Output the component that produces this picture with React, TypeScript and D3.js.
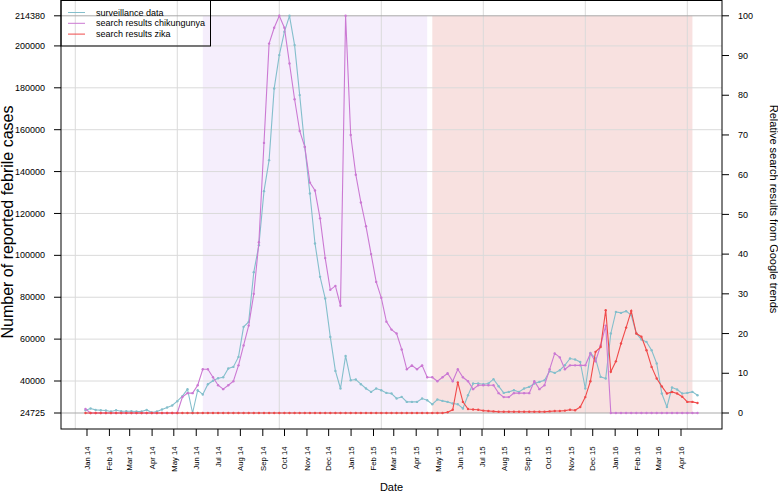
import React from "react";
import * as d3 from "d3";

// ---------- data ----------
const surveillance = [
  26060, 26870, 26205, 26060, 25920, 25440, 26060, 25585, 25585, 25585,
  25440, 25440, 26205, 24965, 25440, 26400, 27350, 28310, 30360, 32750,
  36090, 24725, 35610, 33560, 38480, 40150, 41350, 41820, 45980, 46740,
  51520, 65850, 68230, 91970, 104870, 130660, 145460, 179700, 195610, 206740,
  214380, 200390, 176510, 151810, 129560, 105680, 89730, 79410, 61070, 44830,
  36430, 52000, 40390, 40720, 38480, 36430, 34800, 36430, 35610, 34330,
  34040, 31650, 32410, 30030, 30030, 30030, 31650, 30840, 28930, 31170,
  30500, 30030, 29260, 28930, 26870, 33230, 38810, 38810, 38480, 38810,
  40870, 37525, 34325, 34800, 35615, 34800, 36425, 37190, 38810, 39580,
  40390, 44690, 43880, 45165, 47555, 50750, 50280, 49130, 36425, 53430,
  50750, 41970, 41200, 62690, 73010, 72530, 73340, 71430, 62690, 59830,
  58680, 54720, 48365, 34040, 27640, 36900, 35950, 34040, 34325, 34800,
  33230,
];

const chikungunya = [
  1, 0, 0, 0, 0, 0, 0, 0, 0, 0,
  0, 0, 0, 0, 0, 0, 0, 0, 0, 4,
  5, 5, 7, 11, 11, 9, 7, 6, 7, 8,
  12, 17, 22, 30, 43, 68, 93, 97, 100, 97,
  88, 79, 71, 67, 58, 56, 49, 39, 31, 32,
  27, 100, 70, 60, 53, 47, 40, 33, 29, 23,
  21, 20, 16, 11, 12, 11, 12, 9, 9, 8,
  9, 10, 8, 11, 9, 8, 6, 7, 7, 7,
  7, 5, 4, 4, 5, 5, 5, 5, 8, 6,
  7, 11, 15, 14, 11, 12, 12, 12, 12, 15,
  13, 17, 22, 0, 0, 0, 0, 0, 0, 0,
  0, 0, 0, 0, 0, 0, 0, 0, 0, 0,
  0,
];

const zika = [
  0, 0, 0, 0, 0, 0, 0, 0, 0, 0,
  0, 0, 0, 0, 0, 0, 0, 0, 0, 0,
  0, 0, 0, 0, 0, 0, 0, 0, 0, 0,
  0, 0, 0, 0, 0, 0, 0, 0, 0, 0,
  0, 0, 0, 0, 0, 0, 0, 0, 0, 0,
  0, 0, 0, 0, 0, 0, 0, 0, 0, 0,
  0, 0, 0, 0, 0, 0, 0, 0, 0, 0,
  0, 0.2, 0.8, 7.7, 2.8, 1.0, 0.9, 0.8, 0.6, 0.5,
  0.4, 0.3, 0.3, 0.3, 0.3, 0.3, 0.3, 0.3, 0.3, 0.3,
  0.3, 0.4, 0.5, 0.5, 0.6, 0.8, 0.7, 1.5, 4, 8,
  15.4, 16.6, 25.9, 10.4, 13, 17.5, 21.5, 25.7, 20, 19.2,
  15.8, 11.6, 8.7, 6.7, 4.9, 5.3, 4.9, 4.1, 2.8, 2.8,
  2.5,
];

// week numbers of the observations (x values)
const firstWeek = 2;
const weeks = d3.range(firstWeek, firstWeek + surveillance.length);

// shaded epidemic periods (week numbers)
const chikPeriod = [25, 69];
const zikaPeriod = [70, 121];

const leftTicks = [24725, 40000, 60000, 80000, 100000, 120000, 140000, 160000, 180000, 200000, 214380];
const leftGrid = [40000, 60000, 80000, 100000, 120000, 140000, 160000, 180000, 200000];
const rightTicks = [0, 10, 20, 30, 40, 50, 60, 70, 80, 90, 100];
const monthLabels = [
  "Jan 14", "Feb 14", "Mar 14", "Apr 14", "May 14", "Jun 14", "Jul 14", "Aug 14", "Sep 14", "Oct 14", "Nov 14", "Dec 14",
  "Jan 15", "Feb 15", "Mar 15", "Apr 15", "May 15", "Jun 15", "Jul 15", "Aug 15", "Sep 15", "Oct 15", "Nov 15", "Dec 15",
  "Jan 16", "Feb 16", "Mar 16", "Apr 16",
];
const legendLabels = ["surveillance data", "search results chikungunya", "search results zika"];

// ---------- styles ----------
const FONT = "'Liberation Sans', Arial, Helvetica, sans-serif";
const C_SURV = "#84BFCC";
const C_CHIK = "#CB79D3";
const C_ZIKA = "#F04A4A";
const C_SHADE_CHIK = "#F5EEFC";
const C_SHADE_ZIKA = "#F8E1E0";
const C_GRID = "#DADADA";
const C_REF = "#A9A9A9";

const W = 778;
const H = 493;
const L = 61, R = 722, T = 0.5, B = 429;

export default function App() {
  const pad = 0.04 * (weeks[weeks.length - 1] - weeks[0]);
  const x = d3.scaleLinear().domain([weeks[0] - pad, weeks[weeks.length - 1] + pad]).range([L, R]);
  const xTime = d3.scaleTime()
    .domain([new Date(2013, 10, 26, 2), new Date(2016, 4, 27, 16)])
    .range([L, R]);
  const yR = d3.scaleLinear().domain([0, 100]).range([413, 15.8]);
  const yL = d3.scaleLinear().domain([24725, 214380]).range([413, 15.8]);

  const parse = d3.timeParse("%b %y");
  const monthDates = monthLabels.map((m) => parse(m) as Date);

  const lineL = d3.line<number>().x((_, i) => x(weeks[i])).y((d) => yL(d));
  const lineR = d3.line<number>().x((_, i) => x(weeks[i])).y((d) => yR(d));

  const series = [
    { data: surveillance, color: C_SURV, y: yL, path: lineL(surveillance) },
    { data: chikungunya, color: C_CHIK, y: yR, path: lineR(chikungunya) },
    { data: zika, color: C_ZIKA, y: yR, path: lineR(zika) },
  ];

  const gridX = x.ticks(5);
  const legendColors = [C_SURV, C_CHIK, C_ZIKA];

  return (
    <svg
      width={W}
      height={H}
      style={{ position: "absolute", left: 0, top: 0, background: "#fff", fontFamily: FONT }}
    >
      {/* shaded periods */}
      <rect x={x(chikPeriod[0])} y={yR(100)} width={x(chikPeriod[1]) - x(chikPeriod[0])} height={yR(0) - yR(100)} fill={C_SHADE_CHIK} />
      <rect x={x(zikaPeriod[0])} y={yR(100)} width={x(zikaPeriod[1]) - x(zikaPeriod[0])} height={yR(0) - yR(100)} fill={C_SHADE_ZIKA} />

      {/* grid */}
      {gridX.map((g) => (
        <line key={"gx" + g} x1={x(g)} x2={x(g)} y1={T} y2={B} stroke={C_GRID} strokeWidth={1} />
      ))}
      {leftGrid.map((g) => (
        <line key={"gy" + g} x1={L} x2={R} y1={yL(g)} y2={yL(g)} stroke={C_GRID} strokeWidth={1} />
      ))}
      <line x1={L} x2={R} y1={yR(0)} y2={yR(0)} stroke={C_REF} strokeWidth={1} />
      <line x1={L} x2={R} y1={yR(100)} y2={yR(100)} stroke={C_REF} strokeWidth={1} />

      {/* series */}
      {series.map((s, si) => (
        <g key={"s" + si}>
          <path d={s.path || ""} fill="none" stroke={s.color} strokeWidth={1.1} />
          {s.data.map((d, i) => (
            <circle key={i} cx={x(weeks[i])} cy={s.y(d)} r={1.2} fill={s.color} />
          ))}
        </g>
      ))}

      {/* box */}
      <rect x={L} y={T} width={R - L} height={B - T} fill="none" stroke="#000" strokeWidth={1} />

      {/* left axis */}
      {leftTicks.map((t) => (
        <g key={"lt" + t}>
          <line x1={L - 7} x2={L} y1={yL(t)} y2={yL(t)} stroke="#000" />
          <text x={45} y={yL(t)} dy="0.35em" textAnchor="end" fontSize={9}>{t}</text>
        </g>
      ))}
      <text transform="translate(13,222) rotate(-90)" textAnchor="middle" fontSize={16}>
        Number of reported febrile cases
      </text>

      {/* right axis */}
      {rightTicks.map((t) => (
        <g key={"rt" + t}>
          <line x1={R} x2={R + 7} y1={yR(t)} y2={yR(t)} stroke="#000" />
          <text x={738} y={yR(t)} dy="0.35em" textAnchor="start" fontSize={9}>{t}</text>
        </g>
      ))}
      <text transform="translate(769.5,209) rotate(90)" textAnchor="middle" fontSize={11}>
        Relative search results from Google trends
      </text>

      {/* bottom axis */}
      {monthDates.map((d, i) => (
        <g key={"mt" + i}>
          <line x1={xTime(d)} x2={xTime(d)} y1={B} y2={B + 7} stroke="#000" />
          <text
            transform={`translate(${xTime(d)},446.5) rotate(-90)`}
            dy="0.35em"
            textAnchor="end"
            fontSize={7.7}
          >
            {monthLabels[i]}
          </text>
        </g>
      ))}
      <text x={(L + R) / 2} y={491} textAnchor="middle" fontSize={11}>Date</text>

      {/* legend */}
      <rect x={L} y={T} width={149.5} height={45.5} fill="none" stroke="#000" strokeWidth={1} />
      {legendLabels.map((lab, i) => (
        <g key={"lg" + i}>
          <line x1={68} x2={85} y1={12.5 + i * 10.8} y2={12.5 + i * 10.8} stroke={legendColors[i]} strokeWidth={1} />
          <text x={96} y={12.5 + i * 10.8} dy="0.35em" fontSize={9}>{lab}</text>
        </g>
      ))}
    </svg>
  );
}
